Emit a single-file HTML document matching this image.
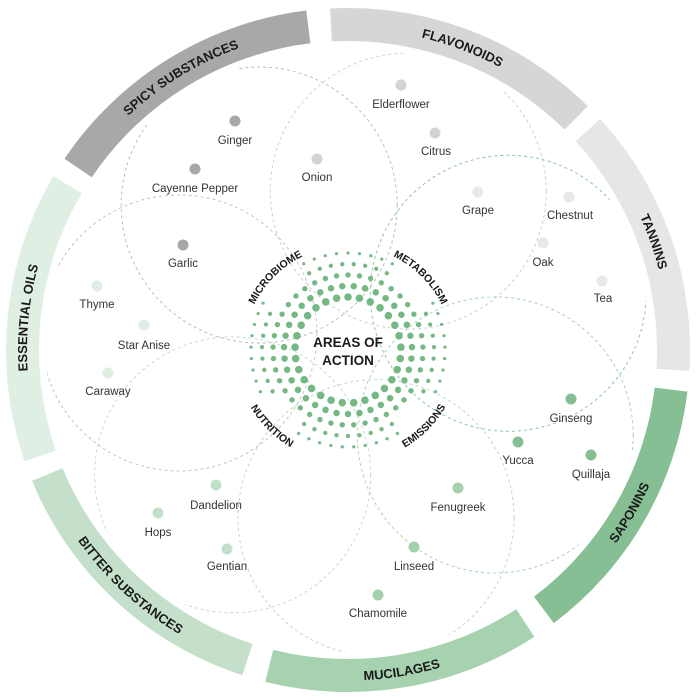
<!DOCTYPE html>
<html><head><meta charset="utf-8">
<style>
html,body{margin:0;padding:0;background:#fff;}
svg{display:block;}
.lbl{font-family:"Liberation Sans",sans-serif;font-size:11.5px;fill:#333;text-anchor:middle;}
.band{font-family:"Liberation Sans",sans-serif;font-size:13px;font-weight:bold;fill:#1a1a1a;}
.aoa{font-family:"Liberation Sans",sans-serif;font-size:10.5px;font-weight:bold;fill:#1a1a1a;}
.ctr{font-family:"Liberation Sans",sans-serif;font-size:13.5px;font-weight:bold;fill:#1a1a1a;text-anchor:middle;}
</style></head>
<body>
<svg id="s" width="696" height="700" viewBox="0 0 696 700" xmlns="http://www.w3.org/2000/svg">
<defs>
<clipPath id="cl"><circle cx="348" cy="350" r="302"/></clipPath>
<path id="p0" d=""/><path id="p1" d=""/><path id="p2" d=""/><path id="p3" d=""/>
<path id="p4" d=""/><path id="p5" d=""/><path id="p6" d=""/>
<path id="q0" d=""/><path id="q1" d=""/><path id="q2" d=""/><path id="q3" d=""/>
</defs>
<g id="bands"></g>
<g id="circles" clip-path="url(#cl)"></g>
<g id="dots"></g>
<g id="cdots"></g>

<text class="band"><textPath href="#p0" startOffset="50%" text-anchor="middle">SPICY SUBSTANCES</textPath></text>
<text class="band"><textPath href="#p1" startOffset="50%" text-anchor="middle">FLAVONOIDS</textPath></text>
<text class="band"><textPath href="#p2" startOffset="50%" text-anchor="middle">TANNINS</textPath></text>
<text class="band"><textPath href="#p3" startOffset="50%" text-anchor="middle">SAPONINS</textPath></text>
<text class="band"><textPath href="#p4" startOffset="50%" text-anchor="middle">MUCILAGES</textPath></text>
<text class="band"><textPath href="#p5" startOffset="50%" text-anchor="middle">BITTER SUBSTANCES</textPath></text>
<text class="band"><textPath href="#p6" startOffset="50%" text-anchor="middle">ESSENTIAL OILS</textPath></text>

<text class="aoa"><textPath href="#q0" startOffset="50%" text-anchor="middle">MICROBIOME</textPath></text>
<text class="aoa"><textPath href="#q1" startOffset="50%" text-anchor="middle">METABOLISM</textPath></text>
<text class="aoa"><textPath href="#q2" startOffset="50%" text-anchor="middle">EMISSIONS</textPath></text>
<text class="aoa"><textPath href="#q3" startOffset="50%" text-anchor="middle">NUTRITION</textPath></text>

<text class="ctr" x="348" y="347">AREAS OF</text>
<text class="ctr" x="348" y="365">ACTION</text>

<text class="lbl" x="235" y="144">Ginger</text>
<text class="lbl" x="195" y="192">Cayenne Pepper</text>
<text class="lbl" x="317" y="181">Onion</text>
<text class="lbl" x="183" y="267">Garlic</text>
<text class="lbl" x="401" y="108">Elderflower</text>
<text class="lbl" x="436" y="155">Citrus</text>
<text class="lbl" x="478" y="214">Grape</text>
<text class="lbl" x="570" y="219">Chestnut</text>
<text class="lbl" x="543" y="266">Oak</text>
<text class="lbl" x="603" y="302">Tea</text>
<text class="lbl" x="97" y="308">Thyme</text>
<text class="lbl" x="144" y="349">Star Anise</text>
<text class="lbl" x="108" y="395">Caraway</text>
<text class="lbl" x="571" y="422">Ginseng</text>
<text class="lbl" x="518" y="464">Yucca</text>
<text class="lbl" x="591" y="478">Quillaja</text>
<text class="lbl" x="458" y="511">Fenugreek</text>
<text class="lbl" x="414" y="570">Linseed</text>
<text class="lbl" x="378" y="617">Chamomile</text>
<text class="lbl" x="216" y="509">Dandelion</text>
<text class="lbl" x="158" y="536">Hops</text>
<text class="lbl" x="227" y="570">Gentian</text>
</svg>
<script>
(function(){
var NS="http://www.w3.org/2000/svg",cx=348,cy=350;
function P(a,r){var t=a*Math.PI/180;return [cx+r*Math.sin(t),cy-r*Math.cos(t)];}
function arc(a1,a2,r){
  var p=P(a1,r),q=P(a2,r),cw=a2>a1?1:0,large=Math.abs(a2-a1)>180?1:0;
  return "M"+p[0].toFixed(2)+","+p[1].toFixed(2)+" A"+r+","+r+" 0 "+large+","+cw+" "+q[0].toFixed(2)+","+q[1].toFixed(2);
}
function el(n,at,par){var e=document.createElementNS(NS,n);for(var k in at)e.setAttribute(k,at[k]);document.getElementById(par).appendChild(e);return e;}
var segs=[
 [-56,-7,"#a8a8a8",1],[-3,44.5,"#d6d6d6",1],[47.5,93.5,"#e6e6e6",1],
 [97,143,"#86bf93",0],[147,194,"#a6d2b0",0],[198,247.5,"#c4e0ca",0],[251,300.5,"#e0efe3",1]];
var Ri=309,Ro=342;
segs.forEach(function(s,i){
  var a=s[0],b=s[1];
  var o1=P(a,Ro),o2=P(b,Ro),i2=P(b,Ri),i1=P(a,Ri);
  var d="M"+o1+" A"+Ro+","+Ro+" 0 0,1 "+o2+" L"+i2+" A"+Ri+","+Ri+" 0 0,0 "+i1+" Z";
  el("path",{d:d,fill:s[2]},"bands");
  var tp=document.getElementById("p"+i);
  if(s[3]) tp.setAttribute("d",arc(a-10,b+10,321));
  else tp.setAttribute("d",arc(b+10,a-10,330.5));
});
var ccol=["#bdbdbd","#cfcfcf","#8fc79c","#a9d2b2","#bcd9c3","#c6dccb","#c4c4c4"];
segs.forEach(function(s,i){
  var m=(s[0]+s[1])/2,c=P(m,170);
  el("circle",{cx:c[0],cy:c[1],r:138,fill:"none",stroke:ccol[i],"stroke-width":1,"stroke-dasharray":"3 3"},"circles");
});
var items=[[235,121,0],[195,169,0],[317,159,1],[183,245,0],[401,85,1],[435,133,1],[478,192,2],[569,197,2],[543,243,2],[602,281,2],
 [97,286,6],[144,325,6],[108,373,6],[571,399,3],[518,442,3],[591,455,3],[458,488,4],[414,547,4],[378,595,4],[216,485,5],[158,513,5],[227,549,5]];
var dc=["#a8a8a8","#d3d3d3","#e8e8e8","#86bf93","#a3d1ae","#c2e0c9","#deeee2"];
items.forEach(function(t){el("circle",{cx:t[0],cy:t[1],r:5.5,fill:dc[t[2]]},"dots");});
for(var i=0;i<5;i++){
  var r=53+11*i,n=Math.round(2*Math.PI*r/11.5),off=(i%2)*0.5;
  for(var k=0;k<n;k++){
    var a=(k+off)*360/n,p=P(a,r);
    var d45=Math.abs(((a%90)+90)%90-45);
    if(i>=3 && d45<14) continue;
    el("circle",{cx:p[0].toFixed(2),cy:p[1].toFixed(2),r:(3.8-0.55*i).toFixed(2),fill:"#74b883"},"cdots");
  }
}
document.getElementById("q0").setAttribute("d",arc(270,360,104));
document.getElementById("q1").setAttribute("d",arc(0,90,104));
document.getElementById("q2").setAttribute("d",arc(180,90,113));
document.getElementById("q3").setAttribute("d",arc(270,180,113));
})();
</script>
</body></html>
